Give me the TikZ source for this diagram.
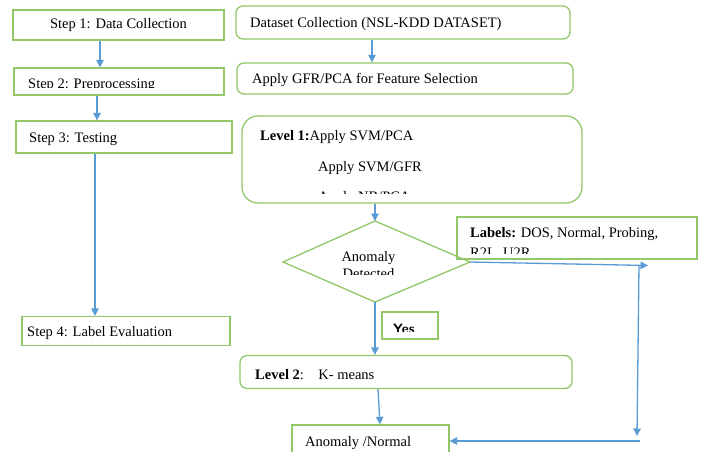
\documentclass[tikz,border=0pt]{standalone}
\usepackage{fontspec}
\setmainfont{Liberation Serif}
\usetikzlibrary{arrows.meta}
\definecolor{boxgreen}{RGB}{146,200,105}
\definecolor{arrblue}{RGB}{91,155,213}
\begin{document}
\begin{tikzpicture}[x=1pt,y=-1pt,
  gbox/.style={draw=boxgreen,line width=1.3pt},
  rbox/.style={draw=boxgreen,line width=1.3pt,rounded corners=7pt},
  arr/.style={draw=arrblue,line width=1.3pt,-{Triangle[width=7.5pt,length=7.5pt]}},
  txt/.style={inner sep=0pt,anchor=base west,font=\fontsize{14.5}{16}\selectfont},
  ctxt/.style={inner sep=0pt,anchor=base,font=\fontsize{14.5}{16}\selectfont}]
\clip (0,0) rectangle (701,452);
\fill[white] (0,0) rectangle (701,452);
% left column
\node[gbox,minimum width=211pt,minimum height=30pt,font=\fontsize{14.5}{16}\selectfont] (s1) at (118.5,25) {Step 1: Data Collection};
\node[gbox,minimum width=210pt,minimum height=27pt] (s2) at (119,81.5) {};
\begin{scope}\clip (15,69) rectangle (223,87.5);
\node[txt] (s2t) at (28,88.5) {Step 2: Preprocessing};
\end{scope}
\node[gbox,minimum width=216pt,minimum height=32pt] (s3) at (124,137) {};
\node[txt] (s3t) at (29,142) {Step 3: Testing};
\node[gbox,minimum width=208pt,minimum height=29pt] (s4) at (126,331) {};
\node[txt] (s4t) at (27,336) {Step 4: Label Evaluation};
\draw[arr] (s1.south -| 100,0) -- (s2.north -| 100,0);
\draw[arr] (s2.south -| 97,0) -- (s3.north -| 97,0);
\draw[arr] (s3.south -| 95,0) -- (s4.north -| 95,0);
% right column
\node[rbox,minimum width=334pt,minimum height=33pt] (d1) at (403,22.5) {};
\node[txt] (d1t) at (250,28) {Dataset Collection (NSL-KDD DATASET)};
\node[rbox,minimum width=336pt,minimum height=31pt] (d2) at (405,78.5) {};
\node[txt] (d2t) at (252,84) {Apply GFR/PCA for Feature Selection};
\draw[arr] (d1.south -| 372,0) -- (d2.north -| 372,0);
% level 1
\node[gbox,rounded corners=16pt,minimum width=340pt,minimum height=87pt] (l1) at (412,159.5) {};
\node[txt] (l1a) at (260,140) {\textbf{Level 1:}Apply SVM/PCA};
\node[txt] (l1b) at (318,171) {Apply SVM/GFR};
\begin{scope}\clip (250,180) rectangle (575,193);
\node[txt] (l1c) at (318,201) {Apply NB/PCA};
\end{scope}
% diamond
\coordinate (dt) at (375,221);
\coordinate (dl) at (283,262);
\coordinate (dr) at (470,262);
\coordinate (db) at (375,302);
\draw[gbox,line join=miter] (dt) -- (dr) -- (db) -- (dl) -- cycle;
\node[ctxt] (an1) at (368.5,261) {Anomaly};
\begin{scope}\clip (300,265) rectangle (440,274);
\node[ctxt] (an2) at (368.5,278.5) {Detected};
\end{scope}
\draw[arr] (l1.south -| 375,0) -- (dt);
% labels box
\node[gbox,minimum width=240pt,minimum height=42pt] (lb) at (577,238) {};
\node[txt] (lbt) at (470,237.5) {\textbf{Labels:} DOS, Normal, Probing,};
\begin{scope}\clip (460,240) rectangle (695,253.5);
\node[txt] (lbt2) at (470,257) {R2L, U2R};
\end{scope}
% yes box
\node[gbox,minimum width=56pt,minimum height=27pt] (yb) at (410,325.5) {};
\begin{scope}\clip (383,313) rectangle (437,331);
\node[inner sep=0pt,anchor=base west,font=\fontsize{13.5}{15}\selectfont\sffamily\bfseries] (yt) at (393,333) {Yes};
\end{scope}
% level 2
\node[rbox,minimum width=332pt,minimum height=33pt] (l2) at (406,372) {};
\node[txt] (l2t) at (255,379) {\textbf{Level 2}:\quad K- means};
\draw[arr] (db) -- (l2.north -| 375,0);
% anomaly/normal
\node[gbox,minimum width=157pt,minimum height=36pt] (an) at (370.5,443) {};
\node[txt] (ant) at (305,446) {Anomaly /Normal};
\coordinate (l2s) at ([xshift=-28pt]l2.south);
\draw[arr] (l2s) -- (an.north -| 380,0);
% right side loop
\coordinate (rc) at (648,265.5);
\coordinate (rb) at (637,436);
\coordinate (rr) at (640,441);
\draw[arr] (dr) -- (rc);
\draw[arr] (639,265) -- (rb);
\draw[arr] (rr) -- (an.east |- 0,441);
\end{tikzpicture}
\end{document}
